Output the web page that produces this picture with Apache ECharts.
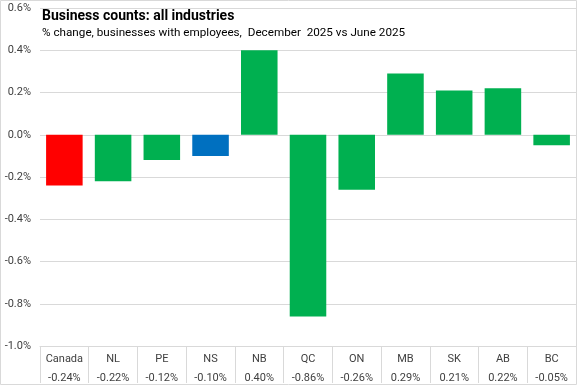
<!DOCTYPE html>
<html><head><meta charset="utf-8">
<script src="https://cdn.jsdelivr.net/npm/echarts@6/dist/echarts.min.js"></script>
<style>html,body{margin:0;padding:0;background:#fff}#c{width:577px;height:385px}</style>
</head><body><div id="c"></div>
<script>
const categories = ['Canada','NL','PE','NS','NB','QC','ON','MB','SK','AB','BC'];
const values = [-0.24,-0.22,-0.12,-0.10,0.40,-0.86,-0.26,0.29,0.21,0.22,-0.05];
const barColors = ['#FF0000','#00B050','#00B050','#0070C0','#00B050','#00B050','#00B050','#00B050','#00B050','#00B050','#00B050'];
const yTicks = [-1.0,-0.8,-0.6,-0.4,-0.2,0.0,0.2,0.4,0.6];
const titleText = 'Business counts: all industries';
const subtitleText = '% change, businesses with employees,  December  2025 vs June 2025';

const font = 'Roboto';
const SCALE = 100;
const tickVals = yTicks.map(t=>Math.round(t*SCALE));
const chart = echarts.init(document.getElementById('c'), null, {renderer:'canvas'});
chart.setOption({
  animation:false,
  textStyle:{fontFamily:font},
  graphic:[
    {type:'rect', shape:{x:0.5,y:0.5,width:576,height:384}, style:{fill:'none', stroke:'#d9d9d9', lineWidth:1}, silent:true, z:-1},
    {type:'text', left:42, top:9, z:100, style:{text:titleText, fill:'#000', font:'bold 14px Roboto'}},
    {type:'text', left:42, top:27, z:100, style:{text:subtitleText, fill:'#000', font:'11.7px Roboto'}}
  ],
  grid:{left:40, right:1, top:8, bottom:39, outerBoundsMode:'none', containLabel:false},
  xAxis:{type:'category', data:categories,
    axisLine:{show:true, onZero:false, lineStyle:{color:'#d9d9d9'}},
    axisTick:{show:true, length:37, lineStyle:{color:'#d9d9d9'}},
    axisLabel:{margin:4, interval:0, color:'#404040', fontSize:11, lineHeight:19,
      formatter:(v,i)=> v + '\n' + values[i].toFixed(2) + '%'}},
  yAxis:{type:'value', min:tickVals[0], max:tickVals[tickVals.length-1], interval:20,
    axisLine:{show:false}, axisTick:{show:false},
    splitLine:{show:true, showMaxLine:true, lineStyle:{color:'#d9d9d9'}},
    axisLabel:{margin:9, color:'#404040', fontSize:11, lineHeight:11, padding:0,
      showMaxLabel:true, showMinLabel:true, hideOverlap:false,
      formatter:v=>(v/SCALE).toFixed(1)+'%'}},
  series:[{type:'bar', barCategoryGap:'25%',
    data: values.map((v,i)=>({value:v*SCALE, itemStyle:{color:barColors[i]}}))}]
});
</script></body></html>
